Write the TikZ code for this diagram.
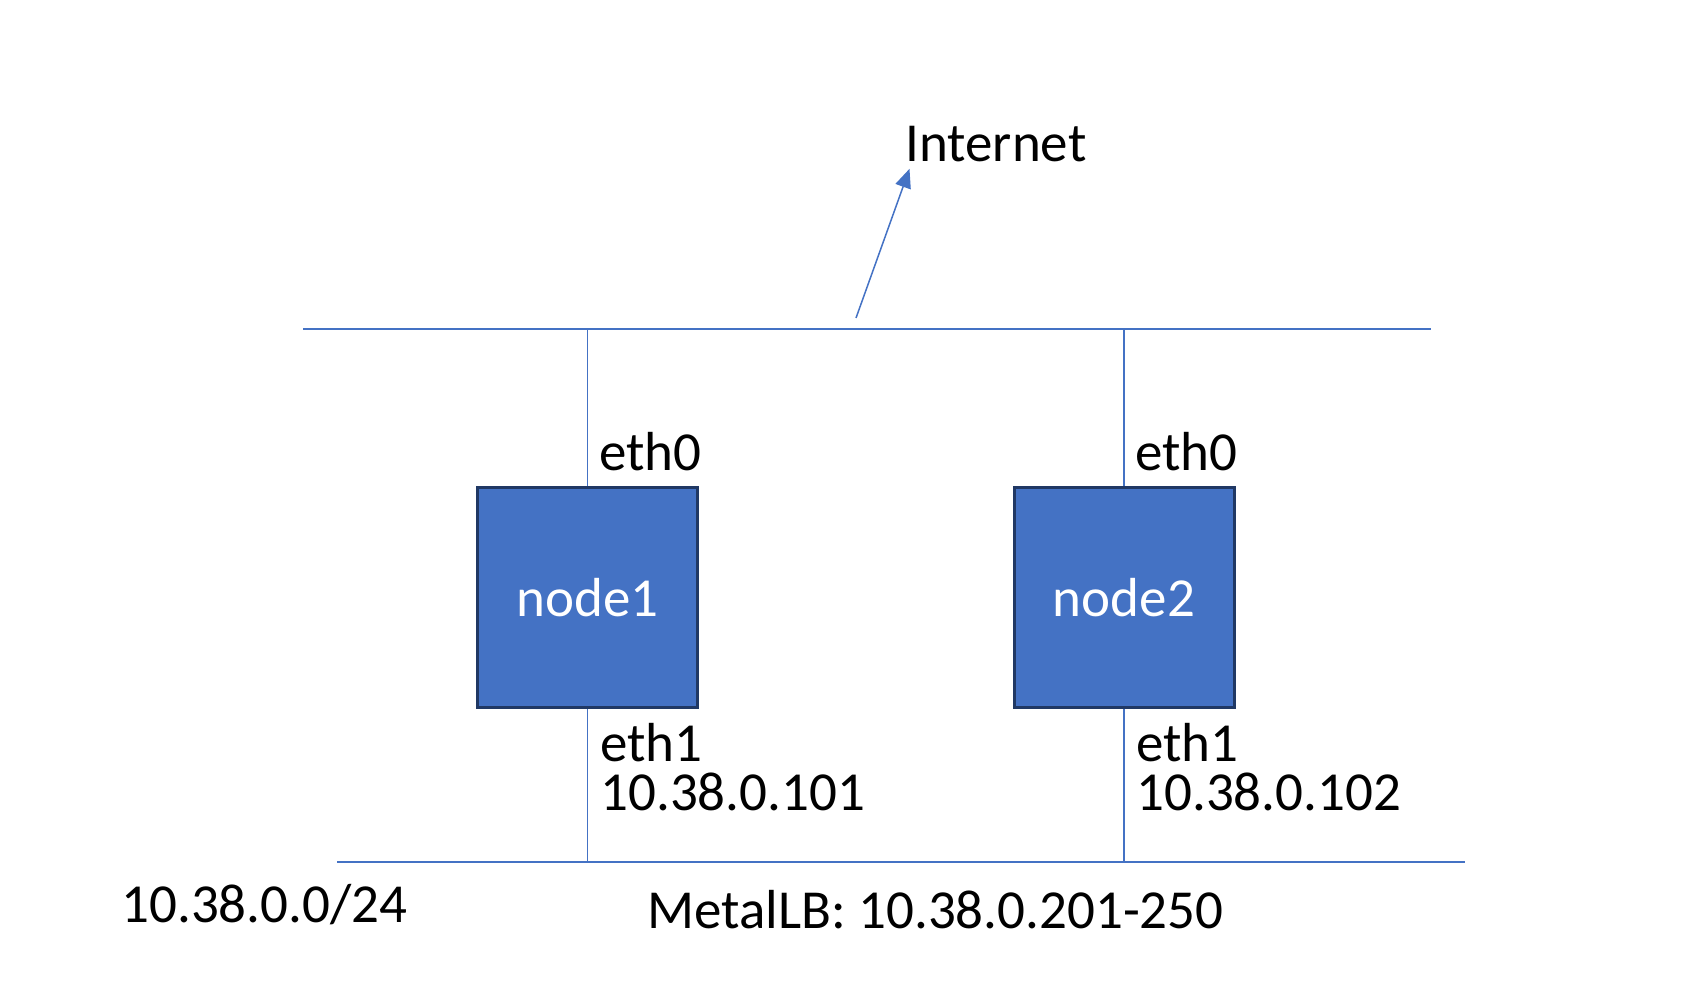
\documentclass[tikz,border=0pt]{standalone}
\usepackage{fontspec}
\setmainfont{Carlito}
\usetikzlibrary{arrows.meta}
\definecolor{netblue}{HTML}{4472C4}
\definecolor{boxedge}{HTML}{203864}
\newcommand{\biglabel}{\fontsize{27.5}{24.5}\selectfont}
\tikzset{
	wire/.style={draw=netblue,line width=.75pt},
	hostbox/.style={fill=netblue,draw=boxedge,line width=1.5pt,minimum width=110pt,minimum height=110pt,inner sep=0pt,text=white,font=\biglabel},
	lbl/.style={anchor=base west,inner sep=0pt,font=\biglabel},
	iflbl/.style={lbl,align=left},
}
\begin{document}
\begin{tikzpicture}[x=.5pt,y=-.5pt]
		\useasboundingbox (0,0) rectangle (1683,989);

		\coordinate (topL) at (303,329);
		\coordinate (topR) at (1431,329);
		\coordinate (botL) at (337,862);
		\coordinate (botR) at (1465,862);
		\draw[wire] (topL)--(topR);
		\draw[wire] (botL)--(botR);

		\node[hostbox] (node1) at (587.5,597.5){node1};
		\node[hostbox] (node2) at (1124,597.5){node2};

		\draw[wire] (node1.north)--(node1.north |- topL);
		\draw[wire] (node1.south)--(node1.south |- botL);
		\draw[wire] (node2.north)--(node2.north |- topL);
		\draw[wire] (node2.south)--(node2.south |- botL);

		\node[lbl] (n1eth0) at (599,471){eth0};
		\node[iflbl] (n1eth1) at (600,810){eth1\\10.38.0.101};
		\node[lbl] (n2eth0) at (1135,471){eth0};
		\node[iflbl] (n2eth1) at (1136,810){eth1\\10.38.0.102};

		\node[lbl] (inet) at (905,162){Internet};
		\coordinate (uplink) at (856,318);
		\draw[wire,-{Triangle[length=9.5pt,width=8pt]}] (uplink)--([shift={(4.5,6)}]inet.south west);

		\node[lbl] (subnet) at (121,922){10.38.0.0/24};
		\node[lbl] (pool) at (647,928){MetalLB: 10.38.0.201-250};
	\end{tikzpicture}
\end{document}
